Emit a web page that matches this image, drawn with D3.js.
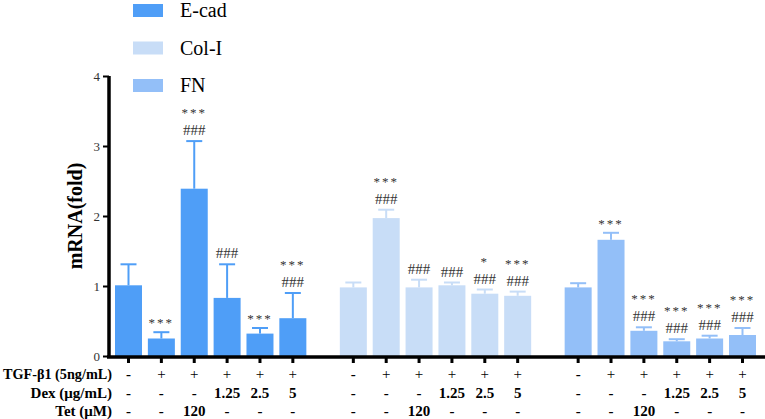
<!DOCTYPE html>
<html>
<head>
<meta charset="utf-8">
<script src="https://cdn.jsdelivr.net/npm/d3@7"></script>
<style>
  body { margin: 0; background: #fff; }
</style>
</head>
<body>
<div id="chart"></div>
<script>
// data
const genes = ["E-cad", "Col-I", "FN"];
const geneColors = ["#4f9ef7", "#c8ddf7", "#93bff8"];

const ecadMean = [1.01, 0.25, 2.39, 0.83, 0.32, 0.54];
const ecadSD   = [0.30, 0.09, 0.68, 0.48, 0.08, 0.36];
const colMean  = [0.98, 1.97, 0.98, 1.01, 0.89, 0.86];
const colSD    = [0.07, 0.12, 0.11, 0.04, 0.06, 0.06];
const fnMean   = [0.98, 1.66, 0.36, 0.21, 0.25, 0.30];
const fnSD     = [0.06, 0.10, 0.05, 0.03, 0.04, 0.10];

const ecadStars  = ["", "***", "***", "", "***", "***"];
const ecadHashes = ["", "", "###", "###", "", "###"];
const colStars   = ["", "***", "", "", "*", "***"];
const colHashes  = ["", "###", "###", "###", "###", "###"];
const fnStars    = ["", "***", "***", "***", "***", "***"];
const fnHashes   = ["", "", "###", "###", "###", "###"];

const rowLabels = ["TGF-β1 (5ng/mL)", "Dex (μg/mL)", "Tet (μM)"];
const tgfRow = ["-", "+", "+", "+", "+", "+"];
const dexRow = ["-", "-", "-", "1.25", "2.5", "5"];
const tetRow = ["-", "-", "120", "-", "-", "-"];

const yTicks = [0, 1, 2, 3, 4];

const means = [ecadMean, colMean, fnMean];
const sds = [ecadSD, colSD, fnSD];
const stars = [ecadStars, colStars, fnStars];
const hashes = [ecadHashes, colHashes, fnHashes];

let bars = [];
genes.forEach(function(g, gi){
  means[gi].forEach(function(m, i){
    bars.push({gene: g, gi: gi, i: i, mean: m, sd: sds[gi][i],
               star: stars[gi][i], hash: hashes[gi][i],
               pos: gi * 6.84 + i});
  });
});

const serif = "'Liberation Serif', Tinos, 'Times New Roman', 'Nimbus Roman', FreeSerif, 'Noto Serif', 'DejaVu Serif', serif";

const width = 765, height = 419;
const svg = d3.select("#chart").append("svg")
  .attr("width", width).attr("height", height)
  .style("font-family", serif);

const x = d3.scaleLinear().domain([0, 2 * 6.84 + 5]).range([128.5, 742.5]);
const y = d3.scaleLinear().domain([0, 4]).range([356, 76]);
const barW = 27;

// bars
svg.selectAll(".bar").data(bars).enter()
  .append("rect")
    .attr("class", "bar")
    .attr("x", d => x(d.pos) - barW / 2)
    .attr("y", d => y(d.mean))
    .attr("width", barW)
    .attr("height", d => y(0) - y(d.mean))
    .attr("fill", d => geneColors[d.gi]);

// error bars (upper only)
let err = svg.selectAll(".err").data(bars).enter().append("g").attr("class", "err")
  .attr("stroke", d => geneColors[d.gi]).attr("stroke-width", 2);
err.append("line")
  .attr("x1", d => x(d.pos)).attr("x2", d => x(d.pos))
  .attr("y1", d => y(d.mean)).attr("y2", d => y(d.mean + d.sd));
err.append("line")
  .attr("x1", d => x(d.pos) - 8).attr("x2", d => x(d.pos) + 8)
  .attr("y1", d => y(d.mean + d.sd)).attr("y2", d => y(d.mean + d.sd));

// significance marks
svg.selectAll(".hash").data(bars.filter(d => d.hash)).enter()
  .append("text")
    .attr("x", d => x(d.pos))
    .attr("y", d => y(d.mean + d.sd) - 6)
    .attr("text-anchor", "middle")
    .attr("font-size", 15)
    .attr("fill", "#333")
    .text(d => d.hash);
svg.selectAll(".star").data(bars.filter(d => d.star)).enter()
  .append("text")
    .attr("x", d => x(d.pos))
    .attr("y", d => y(d.mean + d.sd) - (d.hash ? 24 : 5))
    .attr("text-anchor", "middle")
    .attr("font-size", 13)
    .attr("letter-spacing", 2)
    .attr("fill", "#333")
    .text(d => d.star);

// y axis
const yAxis = svg.append("g").attr("transform", "translate(109,0)")
  .call(d3.axisLeft(y).tickValues(yTicks).tickFormat(d3.format("d")).tickSize(6).tickPadding(3));
yAxis.attr("font-family", null).style("font-family", serif);
yAxis.select(".domain").attr("stroke", "#000").attr("stroke-width", 3.5)
  .attr("d", "M0," + y(4) + "V" + y(0));
yAxis.selectAll(".tick line").attr("stroke", "#000").attr("stroke-width", 2);
yAxis.selectAll(".tick text").attr("font-size", 13).attr("fill", "#333");

svg.append("text")
  .attr("transform", "translate(82," + y(2) + ") rotate(-90)")
  .attr("text-anchor", "middle")
  .attr("font-size", 20)
  .attr("font-weight", "bold")
  .text("mRNA(fold)");

// x axis
svg.append("line")
  .attr("x1", 107).attr("x2", width)
  .attr("y1", y(0) + 1).attr("y2", y(0) + 1)
  .attr("stroke", "#000").attr("stroke-width", 3.5);
svg.selectAll(".xtick").data(bars).enter()
  .append("rect")
    .attr("x", d => x(d.pos) - 1.5)
    .attr("y", y(0) + 2)
    .attr("width", 3).attr("height", 5)
    .attr("fill", "#000");

// treatment table
const rows = [tgfRow, dexRow, tetRow];
const rowY = [379, 398, 416];
rowLabels.forEach(function(lab, ri){
  let t = svg.append("text")
    .attr("x", 112).attr("y", rowY[ri])
    .attr("text-anchor", "end")
    .attr("font-size", 15).attr("font-weight", "bold")
    .text(lab);
  if (t.node().getComputedTextLength() > 109) {
    t.attr("textLength", 109).attr("lengthAdjust", "spacingAndGlyphs");
  }
  svg.selectAll(".cell" + ri).data(bars).enter()
    .append("text")
      .attr("x", d => x(d.pos))
      .attr("y", rowY[ri])
      .attr("text-anchor", "middle")
      .attr("font-size", 15)
      .attr("font-weight", d => rows[ri][d.i] == "+" ? "normal" : "bold")
      .text(d => rows[ri][d.i]);
});

// legend
let legend = svg.selectAll(".legend").data(genes).enter()
  .append("g").attr("transform", (d, i) => "translate(133," + (4 + i * 37.5) + ")");
legend.append("rect").attr("width", 30).attr("height", 13)
  .attr("fill", (d, i) => geneColors[i]);
legend.append("text").attr("x", 47).attr("y", 13)
  .attr("font-size", 20).text(d => d);
</script>
</body>
</html>
